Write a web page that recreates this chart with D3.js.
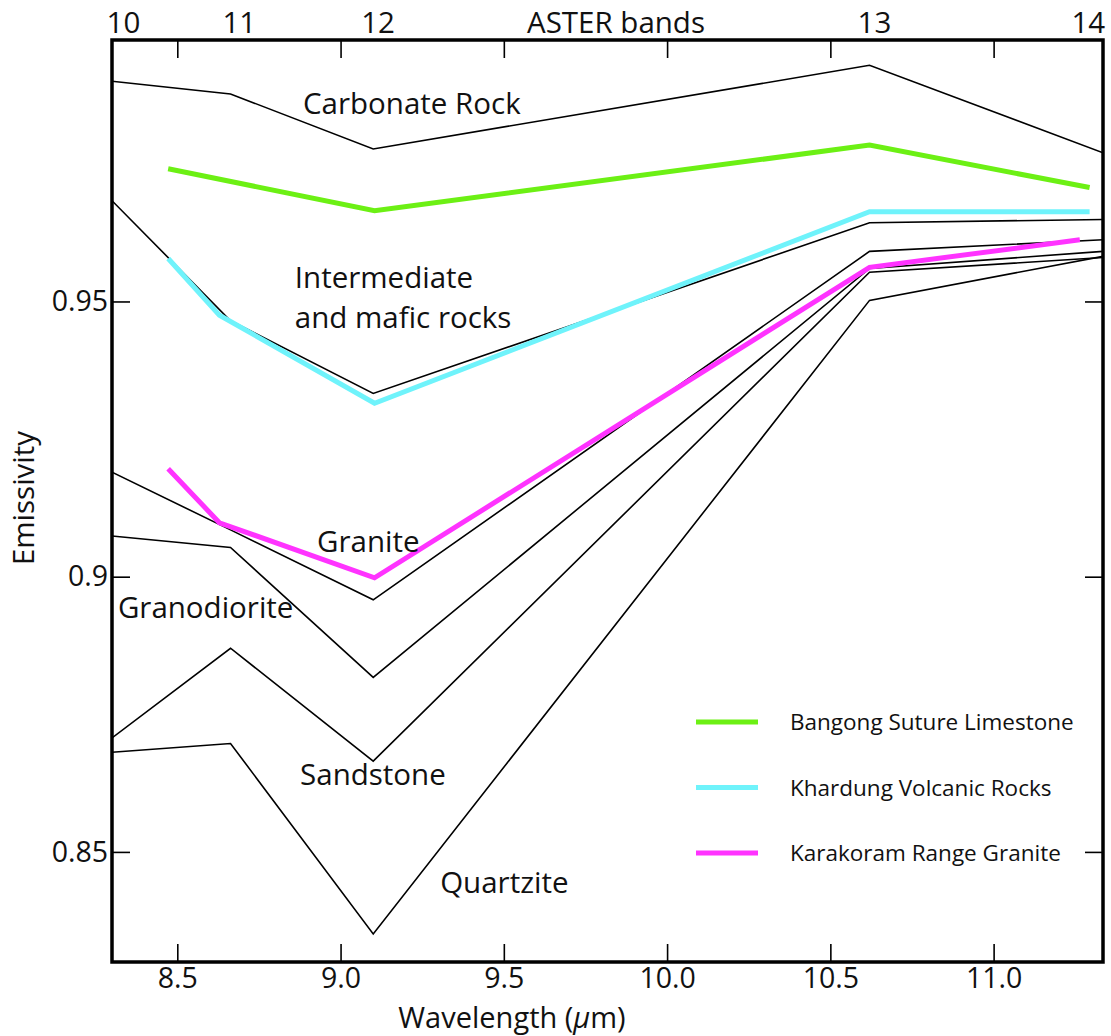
<!DOCTYPE html>
<html>
<head>
<meta charset="utf-8">
<script src="https://cdn.jsdelivr.net/npm/d3@7"></script>
<style>
  html, body { margin: 0; padding: 0; background: #fff; }
  svg text { font-family: "Open Sans", "Noto Sans", sans-serif; fill: #111; }
</style>
</head>
<body>
<svg id="chart" width="1111" height="1036"></svg>
<script>
// Library emissivity spectra (black) sampled at ASTER TIR band wavelengths
const libraryWavelengths = [8.30, 8.663, 9.10, 10.62, 11.335];
const carbonateRock   = [0.9900, 0.9877, 0.9777, 0.9929, 0.9770];
const intermediateMafic = [0.9683, 0.9465, 0.9333, 0.9643, 0.9649];
const granite         = [0.9190, 0.9085, 0.8958, 0.9591, 0.9612];
const granodiorite    = [0.9074, 0.9053, 0.8817, 0.9560, 0.9591];
const sandstone       = [0.8707, 0.8870, 0.8665, 0.9553, 0.9580];
const quartzite       = [0.8681, 0.8697, 0.8351, 0.9502, 0.9582];

// Field spectra (coloured)
const limestoneWavelengths = [8.472, 9.104, 10.62, 11.294];
const bangongLimestone     = [0.9741, 0.9665, 0.9784, 0.9707];
const volcanicWavelengths  = [8.472, 8.629, 9.104, 10.62, 11.294];
const khardungVolcanics    = [0.9578, 0.9475, 0.9315, 0.9663, 0.9663];
const graniteWavelengths   = [8.472, 8.629, 9.104, 10.62, 11.264];
const karakoramGranite     = [0.9196, 0.9098, 0.8998, 0.9562, 0.9612];

const legendNames = ["Bangong Suture Limestone", "Khardung Volcanic Rocks", "Karakoram Range Granite"];

// Axis ticks
const wavelengthTicks = [8.5, 9.0, 9.5, 10.0, 10.5, 11.0];
const wavelengthTickLabels = ["8.5", "9.0", "9.5", "10.0", "10.5", "11.0"];
const emissivityTicks = [0.85, 0.90, 0.95];
const emissivityTickLabels = ["0.85", "0.9", "0.95"];
const asterBandLabels = ["10", "11", "12", "13", "14"];
const asterBandLabelWl = [8.335, 8.69, 9.115, 10.635, 11.29];

const svg = d3.select("#chart");
const margin = { left: 112, right: 8, top: 40, bottom: 74 };
const W = 1111, H = 1036;
const FONT = 29.5;
const TICK_FONT = 28.5;

const x = d3.scaleLinear().domain([8.30, 11.335]).range([margin.left, W - margin.right]);
const y = d3.scaleLinear().domain([0.830, 0.9975]).range([H - margin.bottom, margin.top]);

const line = d3.line().x(d => x(d[0])).y(d => y(d[1]));
const pairs = (xs, ys) => xs.map((v, i) => [v, ys[i]]);

const plot = svg.append("g");
plot.append("clipPath").attr("id", "clip").append("rect")
  .attr("x", margin.left).attr("y", margin.top)
  .attr("width", W - margin.left - margin.right).attr("height", H - margin.top - margin.bottom);

const lines = plot.append("g").attr("clip-path", "url(#clip)");

// Library spectra
[carbonateRock, intermediateMafic, granite, granodiorite, sandstone, quartzite].forEach(s => {
  lines.append("path")
    .attr("d", line(pairs(libraryWavelengths, s)))
    .attr("fill", "none").attr("stroke", "#000").attr("stroke-width", 1.6)
    .attr("stroke-linejoin", "miter");
});

// Field spectra
const fieldSeries = [
  { wl: limestoneWavelengths, v: bangongLimestone, color: "#6cf014" },
  { wl: volcanicWavelengths, v: khardungVolcanics, color: "#6ff3fb" },
  { wl: graniteWavelengths, v: karakoramGranite, color: "#ff33ff" }
];
fieldSeries.forEach(s => {
  lines.append("path")
    .attr("d", line(pairs(s.wl, s.v)))
    .attr("fill", "none").attr("stroke", s.color).attr("stroke-width", 5)
    .attr("stroke-linejoin", "miter");
});

// Axes (ticks pointing inward on all four sides)
const tickLen = 18;
const axisBottom = d3.axisBottom(x).tickValues(wavelengthTicks)
  .tickFormat((d, i) => wavelengthTickLabels[i]).tickSizeInner(-tickLen).tickSizeOuter(0).tickPadding(6);
const axisTop = d3.axisTop(x).tickValues(wavelengthTicks).tickFormat("").tickSizeInner(-tickLen).tickSizeOuter(0);
const axisLeft = d3.axisLeft(y).tickValues(emissivityTicks)
  .tickFormat((d, i) => emissivityTickLabels[i]).tickSizeInner(-tickLen).tickSizeOuter(0).tickPadding(4);
const axisRight = d3.axisRight(y).tickValues(emissivityTicks).tickFormat("").tickSizeInner(-tickLen).tickSizeOuter(0);

function styleAxis(g) {
  g.select(".domain").remove();
  g.selectAll(".tick line").attr("stroke", "#000").attr("stroke-width", 1.6);
  g.selectAll(".tick text").attr("font-size", TICK_FONT).attr("fill", "#111")
    .attr("font-family", "'Open Sans', sans-serif");
}
svg.append("g").attr("transform", `translate(0,${H - margin.bottom})`).call(axisBottom).call(styleAxis);
svg.append("g").attr("transform", `translate(0,${margin.top})`).call(axisTop).call(styleAxis);
svg.append("g").attr("transform", `translate(${margin.left},0)`).call(axisLeft).call(styleAxis);
svg.append("g").attr("transform", `translate(${W - margin.right},0)`).call(axisRight).call(styleAxis);

// Frame
svg.append("rect")
  .attr("x", margin.left).attr("y", margin.top)
  .attr("width", W - margin.left - margin.right).attr("height", H - margin.top - margin.bottom)
  .attr("fill", "none").attr("stroke", "#000").attr("stroke-width", 3.5);

// Top axis: ASTER band numbers
svg.append("g").selectAll("text").data(asterBandLabels).join("text")
  .attr("x", (d, i) => x(asterBandLabelWl[i]))
  .attr("y", 33).attr("text-anchor", "middle").attr("font-size", FONT)
  .text(d => d);
svg.append("text").attr("x", 616).attr("y", 33).attr("text-anchor", "middle")
  .attr("font-size", FONT).text("ASTER bands");

// Axis titles
const xt = svg.append("text").attr("x", 512).attr("y", 1028).attr("text-anchor", "middle").attr("font-size", 29);
xt.append("tspan").text("Wavelength (");
xt.append("tspan").attr("font-style", "italic").text("\u00b5");
xt.append("tspan").text("m)");
svg.append("text").attr("transform", "translate(34,498) rotate(-90)")
  .attr("text-anchor", "middle").attr("font-size", FONT).text("Emissivity");

// Rock type annotations (anchored in data coordinates)
const annotations = [
  { text: "Carbonate Rock", wl: 8.885, e: 0.9841 },
  { text: "Intermediate", wl: 8.860, e: 0.9525 },
  { text: "and mafic rocks", wl: 8.860, e: 0.9452 },
  { text: "Granite", wl: 8.928, e: 0.9045 },
  { text: "Granodiorite", wl: 8.318, e: 0.8925 },
  { text: "Sandstone", wl: 8.876, e: 0.8622 },
  { text: "Quartzite", wl: 9.305, e: 0.8425 }
];
svg.append("g").selectAll("text").data(annotations).join("text")
  .attr("x", d => x(d.wl)).attr("y", d => y(d.e))
  .attr("font-size", FONT).text(d => d.text);

// Legend
const legend = svg.append("g").attr("transform", "translate(696,722)");
const legendGap = 65.5;
fieldSeries.forEach((s, i) => {
  const g = legend.append("g").attr("transform", `translate(0,${i * legendGap})`);
  g.append("line").attr("x1", 0).attr("x2", 62).attr("y1", 0).attr("y2", 0)
    .attr("stroke", s.color).attr("stroke-width", 5);
  g.append("text").attr("x", 94).attr("y", 8).attr("font-size", 22.5).text(legendNames[i]);
});
</script>
</body>
</html>
